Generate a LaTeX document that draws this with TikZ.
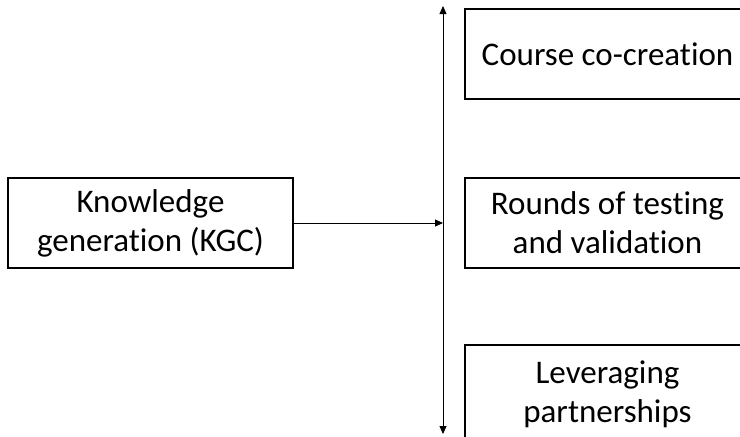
\documentclass[tikz,border=0pt]{standalone}
\usepackage{fontspec}
\setmainfont[Ligatures={NoCommon}]{Carlito}
\usetikzlibrary{arrows.meta,positioning}

\begin{document}
\begin{tikzpicture}[
  x=1pt, y=-1pt,
  stagebox/.style={draw, line width=1.1pt, minimum width=285pt, minimum height=90pt,
                   align=center, inner sep=0pt, font=\fontsize{33}{39}\selectfont},
  arr/.style={-{Triangle[length=8pt, width=7pt]}, line width=0.8pt}
]
\useasboundingbox (0,0) rectangle (740,437);
\clip (0,0) rectangle (740,437);

% source on the left
\node[stagebox] (kgc) at (150.5,223) {Knowledge\\generation (KGC)};

% stages on the right
\node[stagebox] (course) at (607.5,54) {Course co-creation};
\node[stagebox] (rounds) at (607.5,223) {Rounds of testing\\and validation};
\node[stagebox, minimum height=98pt] (partner) at (607.5,394) {Leveraging\\partnerships};

% double-headed axis
\coordinate (axtop) at (443,6);
\coordinate (axbot) at (443,434);
\coordinate (axmid) at (443,223);
\draw[arr, {Triangle[length=8pt, width=7pt]}-{Triangle[length=8pt, width=7pt]}] (axtop) -- (axbot);
\draw[arr] (kgc.east) -- (axmid);
\end{tikzpicture}
\end{document}
